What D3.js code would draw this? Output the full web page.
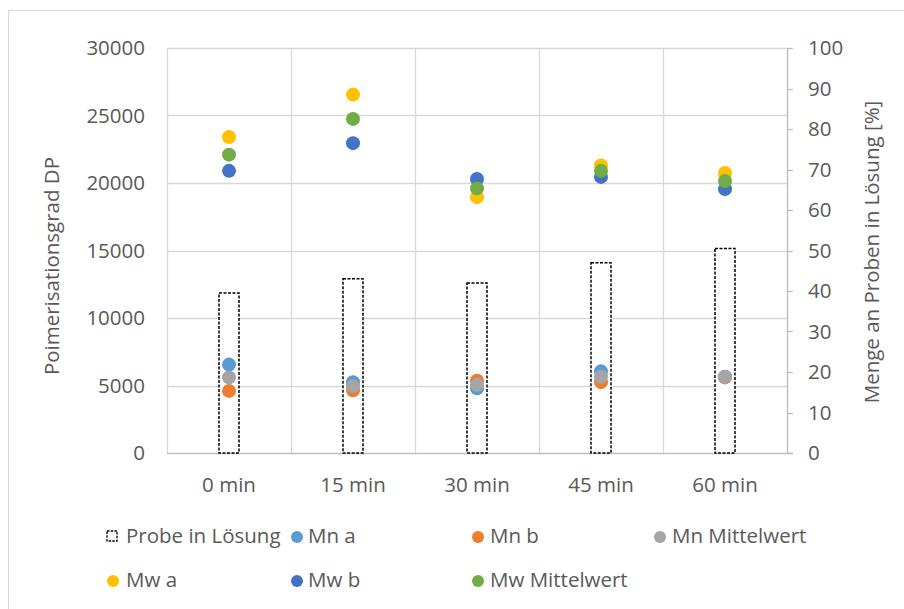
<!DOCTYPE html>
<html>
<head>
<meta charset="utf-8">
<script src="https://cdn.jsdelivr.net/npm/d3@7"></script>
<style>
  html, body { margin: 0; padding: 0; background: #fff; }
  svg text { font-family: "Open Sans", sans-serif; fill: #595959; }
</style>
</head>
<body>
<svg id="chart"></svg>
<script>
const categories = ['0 min', '15 min', '30 min', '45 min', '60 min'];
const probeInLoesung = [39.5, 43, 42, 47, 50.5];
const mnA = [6550, 5250, 4800, 6050, 5650];
const mnB = [4600, 4650, 5350, 5250, 5600];
const mnMittel = [5600, 4950, 5050, 5650, 5650];
const mwA = [23400, 26550, 18950, 21300, 20750];
const mwB = [20900, 22950, 20300, 20450, 19550];
const mwMittel = [22100, 24750, 19600, 20900, 20150];
const leftTicks = [0, 5000, 10000, 15000, 20000, 25000, 30000];
const rightTicks = [0, 10, 20, 30, 40, 50, 60, 70, 80, 90, 100];

const series = [
    { name: 'Mn a', values: mnA, color: '#5B9BD5' },
    { name: 'Mn b', values: mnB, color: '#ED7D31' },
    { name: 'Mn Mittelwert', values: mnMittel, color: '#A5A5A5' },
    { name: 'Mw a', values: mwA, color: '#FFC000' },
    { name: 'Mw b', values: mwB, color: '#4472C4' },
    { name: 'Mw Mittelwert', values: mwMittel, color: '#70AD47' }
];

const width = 904;
const height = 609;
const margin = { top: 48, right: 117, bottom: 156, left: 167 };

const svg = d3.select('svg#chart')
    .attr('width', width)
    .attr('height', height);

// chart border
svg.append('rect')
    .attr('x', 8.5).attr('y', 10.5)
    .attr('width', width + 10).attr('height', height + 10)
    .attr('fill', 'none')
    .attr('stroke', '#d9d9d9');

const x = d3.scaleBand()
    .domain(categories)
    .range([margin.left, width - margin.right]);

const yLeft = d3.scaleLinear()
    .domain([0, 30000])
    .range([height - margin.bottom, margin.top]);

const yRight = d3.scaleLinear()
    .domain([0, 100])
    .range([height - margin.bottom, margin.top]);

const fontSize = 20.5;

// horizontal gridlines
svg.append('g')
    .selectAll('line')
    .data(leftTicks.slice(1))
    .join('line')
    .attr('x1', margin.left).attr('x2', width - margin.right)
    .attr('y1', d => Math.round(yLeft(d)) + 0.5)
    .attr('y2', d => Math.round(yLeft(d)) + 0.5)
    .attr('stroke', '#d9d9d9').attr('stroke-width', 1.3);

// vertical gridlines between categories
const vlines = categories.map(c => x(c)).concat([x.range()[1]]);
svg.append('g')
    .selectAll('line')
    .data(vlines)
    .join('line')
    .attr('x1', d => Math.round(d) + 0.5).attr('x2', d => Math.round(d) + 0.5)
    .attr('y1', margin.top).attr('y2', height - margin.bottom)
    .attr('stroke', '#d9d9d9').attr('stroke-width', 1.3);

// left tick labels
svg.append('g')
    .selectAll('text')
    .data(leftTicks)
    .join('text')
    .attr('x', 145)
    .attr('y', d => yLeft(d))
    .attr('dy', '0.35em')
    .attr('text-anchor', 'end')
    .attr('font-size', fontSize)
    .text(d => d);

// bottom axis line
svg.append('line')
    .attr('x1', margin.left).attr('x2', width - margin.right + 6)
    .attr('y1', yLeft(0) + 0.5).attr('y2', yLeft(0) + 0.5)
    .attr('stroke', '#bfbfbf').attr('stroke-width', 1.3);

// right axis
const rightAxis = svg.append('g');
rightAxis.append('line')
    .attr('x1', width - margin.right + 0.5).attr('x2', width - margin.right + 0.5)
    .attr('y1', margin.top).attr('y2', height - margin.bottom)
    .attr('stroke', '#bfbfbf').attr('stroke-width', 1.3);
rightAxis.selectAll('line.tick')
    .data(rightTicks)
    .join('line')
    .attr('class', 'tick')
    .attr('x1', width - margin.right).attr('x2', width - margin.right + 6)
    .attr('y1', d => Math.round(yRight(d)) + 0.5)
    .attr('y2', d => Math.round(yRight(d)) + 0.5)
    .attr('stroke', '#bfbfbf').attr('stroke-width', 1.3);
rightAxis.selectAll('text')
    .data(rightTicks)
    .join('text')
    .attr('x', 808)
    .attr('y', d => yRight(d))
    .attr('dy', '0.35em')
    .attr('font-size', fontSize)
    .text(d => d);

// category labels
svg.append('g')
    .selectAll('text')
    .data(categories)
    .join('text')
    .attr('x', d => x(d) + x.bandwidth() / 2)
    .attr('y', 485)
    .attr('dy', '0.35em')
    .attr('text-anchor', 'middle')
    .attr('font-size', fontSize)
    .text(d => d);

// axis titles
svg.append('text')
    .attr('transform', 'translate(52,266) rotate(-90)')
    .attr('text-anchor', 'middle')
    .attr('dy', '0.35em')
    .attr('font-size', fontSize)
    .text('Poimerisationsgrad DP');

svg.append('text')
    .attr('transform', 'translate(872,252) rotate(-90)')
    .attr('text-anchor', 'middle')
    .attr('dy', '0.35em')
    .attr('font-size', fontSize)
    .text('Menge an Proben in Lösung [%]');

// bars (Probe in Lösung)
const barW = 20;
svg.append('g')
    .selectAll('rect')
    .data(probeInLoesung)
    .join('rect')
    .attr('x', (d, i) => x(categories[i]) + x.bandwidth() / 2 - barW / 2)
    .attr('y', d => yRight(d))
    .attr('width', barW)
    .attr('height', d => yRight(0) - yRight(d))
    .attr('fill', '#fff')
    .attr('stroke', '#000')
    .attr('stroke-width', 1.5)
    .attr('stroke-dasharray', '3,1.5');

// points
series.forEach(s => {
    svg.append('g')
        .selectAll('circle')
        .data(s.values)
        .join('circle')
        .attr('cx', (d, i) => x(categories[i]) + x.bandwidth() / 2)
        .attr('cy', d => yLeft(d))
        .attr('r', 7)
        .attr('fill', s.color);
});

// legend
const legendItems = [
    { name: 'Probe in Lösung', type: 'bar', mx: 112, tx: 126, y: 536 },
    { name: 'Mn a', color: series[0].color, mx: 297, tx: 308, y: 536 },
    { name: 'Mn b', color: series[1].color, mx: 478, tx: 490, y: 536 },
    { name: 'Mn Mittelwert', color: series[2].color, mx: 660, tx: 672, y: 536 },
    { name: 'Mw a', color: series[3].color, mx: 113, tx: 126, y: 580 },
    { name: 'Mw b', color: series[4].color, mx: 297, tx: 308, y: 580 },
    { name: 'Mw Mittelwert', color: series[5].color, mx: 478, tx: 490, y: 580 }
];

const legend = svg.append('g');
legendItems.forEach(item => {
    if (item.type === 'bar') {
        legend.append('rect')
            .attr('x', item.mx - 5).attr('y', item.y - 5)
            .attr('width', 10).attr('height', 10)
            .attr('fill', '#fff')
            .attr('stroke', '#000')
            .attr('stroke-width', 1.3)
            .attr('stroke-dasharray', '2.5,1.2');
    } else {
        legend.append('circle')
            .attr('cx', item.mx).attr('cy', item.y + 1)
            .attr('r', 6)
            .attr('fill', item.color);
    }
    legend.append('text')
        .attr('x', item.tx).attr('y', item.y)
        .attr('dy', '0.35em')
        .attr('font-size', fontSize)
        .text(item.name);
});
</script>
</body>
</html>
